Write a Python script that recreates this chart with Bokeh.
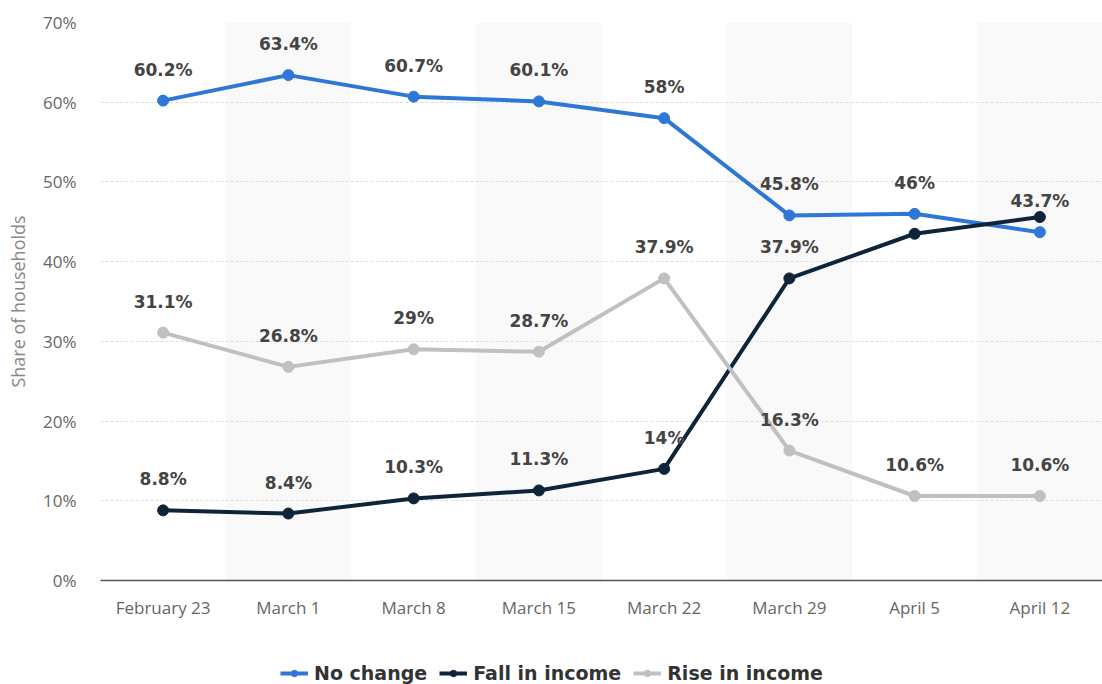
from bokeh.plotting import figure
from bokeh.layouts import column
from bokeh.models import (ColumnDataSource, FactorRange, Range1d, FixedTicker,
                          PrintfTickFormatter, LabelSet, Legend, LegendItem)
from bokeh.core.properties import value
from bokeh.embed import file_html
from bokeh.resources import INLINE

categories = ["February 23", "March 1", "March 8", "March 15", "March 22",
              "March 29", "April 5", "April 12"]
no_change = [60.2, 63.4, 60.7, 60.1, 58.0, 45.8, 46.0, 43.7]
fall_in_income = [8.8, 8.4, 10.3, 11.3, 14.0, 37.9, 43.5, 45.6]
rise_in_income = [31.1, 26.8, 29.0, 28.7, 37.9, 16.3, 10.6, 10.6]
y_ticks = [0, 10, 20, 30, 40, 50, 60, 70]

series = [
    ("No change", no_change, "#2f77d6"),
    ("Fall in income", fall_in_income, "#0f2438"),
    ("Rise in income", rise_in_income, "#c0c0c0"),
]
hidden_labels = {("Fall in income", "April 5"), ("Fall in income", "April 12")}

p = figure(x_range=FactorRange(*categories, range_padding=0),
           y_range=Range1d(0, 70),
           width=1102, height=640,
           min_border_left=100, min_border_right=0, min_border_top=22,
           min_border_bottom=60,
           output_backend="svg", toolbar_location=None)
p.outline_line_color = None
p.background_fill_color = "white"

# alternating background bands
band_src = ColumnDataSource(dict(x=categories[1::2], top=[70] * len(categories[1::2])))
p.vbar(x="x", top="top", bottom=0, width=1, source=band_src,
       fill_color="#f9f9f9", line_color=None, level="underlay")

# axes
p.yaxis.ticker = FixedTicker(ticks=y_ticks)
p.yaxis.formatter = PrintfTickFormatter(format="%d%%")
p.yaxis.axis_line_color = None
p.yaxis.major_tick_line_color = None
p.yaxis.minor_tick_line_color = None
p.yaxis.major_tick_out = 0
p.yaxis.minor_tick_out = 0
p.yaxis.major_label_text_font = "Open Sans"
p.yaxis.major_label_text_font_size = "17px"
p.yaxis.major_label_text_color = "#666666"
p.yaxis.major_label_standoff = 24
p.yaxis.axis_label = "Share of households"
p.yaxis.axis_label_text_font = "Open Sans"
p.yaxis.axis_label_text_font_style = "normal"
p.yaxis.axis_label_text_font_size = "18px"
p.yaxis.axis_label_text_color = "#888888"
p.yaxis.axis_label_standoff = 10

p.xaxis.axis_line_color = "#555555"
p.xaxis.axis_line_width = 1.5
p.xaxis.major_tick_line_color = None
p.xaxis.minor_tick_line_color = None
p.xaxis.major_tick_out = 0
p.xaxis.minor_tick_out = 0
p.xaxis.major_label_text_font = "Open Sans"
p.xaxis.major_label_text_font_size = "17px"
p.xaxis.major_label_text_color = "#666666"
p.xaxis.major_label_standoff = 15

p.xgrid.grid_line_color = None
p.ygrid.grid_line_color = "#dddddd"
p.ygrid.grid_line_dash = "3 2"
p.ygrid.grid_line_width = 1

# legend strip below the chart
lg = figure(width=1102, height=44, x_axis_type=None, y_axis_type=None,
            x_range=Range1d(0, 1), y_range=Range1d(0, 1),
            min_border=0, output_backend="svg", toolbar_location=None)
lg.outline_line_color = None
lg.xgrid.visible = False
lg.ygrid.visible = False

items = []
for name, vals, color in series:
    src = ColumnDataSource(dict(x=categories, y=vals))
    p.line("x", "y", source=src, line_color=color, line_width=4)
    p.scatter("x", "y", source=src, size=11, fill_color=color, line_color=color)
    shown = [(c, v) for c, v in zip(categories, vals) if (name, c) not in hidden_labels]
    lab_src = ColumnDataSource(dict(
        x=[c for c, _ in shown], y=[v for _, v in shown],
        t=[f"{v:g}%" for _, v in shown]))
    p.add_layout(LabelSet(x="x", y="y", text="t", source=lab_src,
                          text_align="center", text_baseline="middle",
                          y_offset=31, text_font=value("DejaVu Sans"),
                          text_font_style="bold", text_font_size="17px",
                          text_color="#444444"))
    # proxy renderers (off-screen) that only provide the legend icons
    proxy = ColumnDataSource(dict(x=[-10], y=[-10]))
    ln = lg.line("x", "y", source=proxy, line_color=color, line_width=4)
    sc = lg.scatter("x", "y", source=proxy, size=11, fill_color=color, line_color=color)
    items.append(LegendItem(label=name, renderers=[ln, sc]))

legend = Legend(items=items, orientation="horizontal", location=(180, 0),
                border_line_color=None, background_fill_alpha=0,
                label_text_font="DejaVu Sans", label_text_font_style="bold",
                label_text_font_size="19px", label_text_color="#333333",
                glyph_width=28, glyph_height=16, spacing=12, label_standoff=6,
                margin=0, padding=2)
lg.add_layout(legend, "center")

layout = column(p, lg, spacing=0)
open("out.html", "w").write(file_html(layout, INLINE))
